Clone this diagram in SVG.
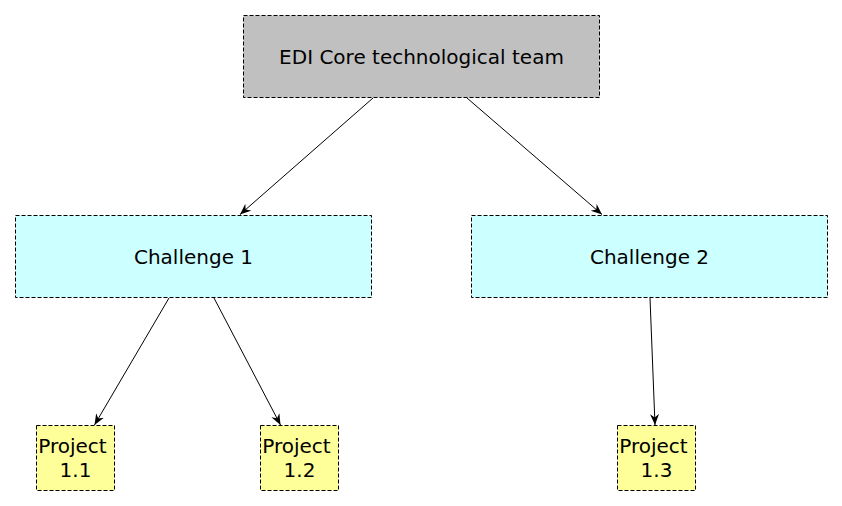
<svg xmlns="http://www.w3.org/2000/svg" width="842" height="506" viewBox="0 0 842 506">
<style>
.box{stroke:#000;stroke-width:1;stroke-dasharray:4,2}
.t{font-family:"DejaVu Sans",sans-serif;font-size:20px;fill:#000;text-anchor:middle}
.c{stroke:#000;stroke-width:1;fill:none;marker-end:url(#ah)}
</style>
<defs>
<marker id="ah" markerUnits="userSpaceOnUse" markerWidth="12" markerHeight="10" refX="11" refY="4.5" orient="auto">
<path d="M0,0 L11,4.5 L0,9 L3.5,4.5 z" fill="#000"/>
</marker>
</defs>
<rect width="842" height="506" fill="#fff"/>
<g id="connectors">
<line class="c" x1="373" y1="98" x2="240" y2="214.5"/>
<line class="c" x1="467" y1="98" x2="602" y2="214.5"/>
<line class="c" x1="169" y1="298" x2="94.5" y2="425"/>
<line class="c" x1="214" y1="298" x2="280.5" y2="425"/>
<line class="c" x1="650" y1="298" x2="655" y2="425"/>
</g>
<g id="core">
<rect class="box" x="243.5" y="15.5" width="356" height="82" fill="#c0c0c0"/>
<text class="t" x="421.5" y="63.5">EDI Core technological team</text>
</g>
<g id="challenge1">
<rect class="box" x="15.5" y="215.5" width="356" height="82" fill="#ccffff"/>
<text class="t" x="193.5" y="263.5">Challenge 1</text>
</g>
<g id="challenge2">
<rect class="box" x="471.5" y="215.5" width="356" height="82" fill="#ccffff"/>
<text class="t" x="649.5" y="263.5">Challenge 2</text>
</g>
<g id="project11">
<rect class="box" x="36.5" y="425.5" width="78" height="65" fill="#ffff99"/>
<text class="t" x="72.5" y="453">Project</text>
<text class="t" x="75.5" y="477">1.1</text>
</g>
<g id="project12">
<rect class="box" x="260.5" y="425.5" width="78" height="65" fill="#ffff99"/>
<text class="t" x="296.5" y="453">Project</text>
<text class="t" x="299.5" y="477">1.2</text>
</g>
<g id="project13">
<rect class="box" x="617.5" y="425.5" width="78" height="65" fill="#ffff99"/>
<text class="t" x="653.5" y="453">Project</text>
<text class="t" x="656.5" y="477">1.3</text>
</g>
</svg>
